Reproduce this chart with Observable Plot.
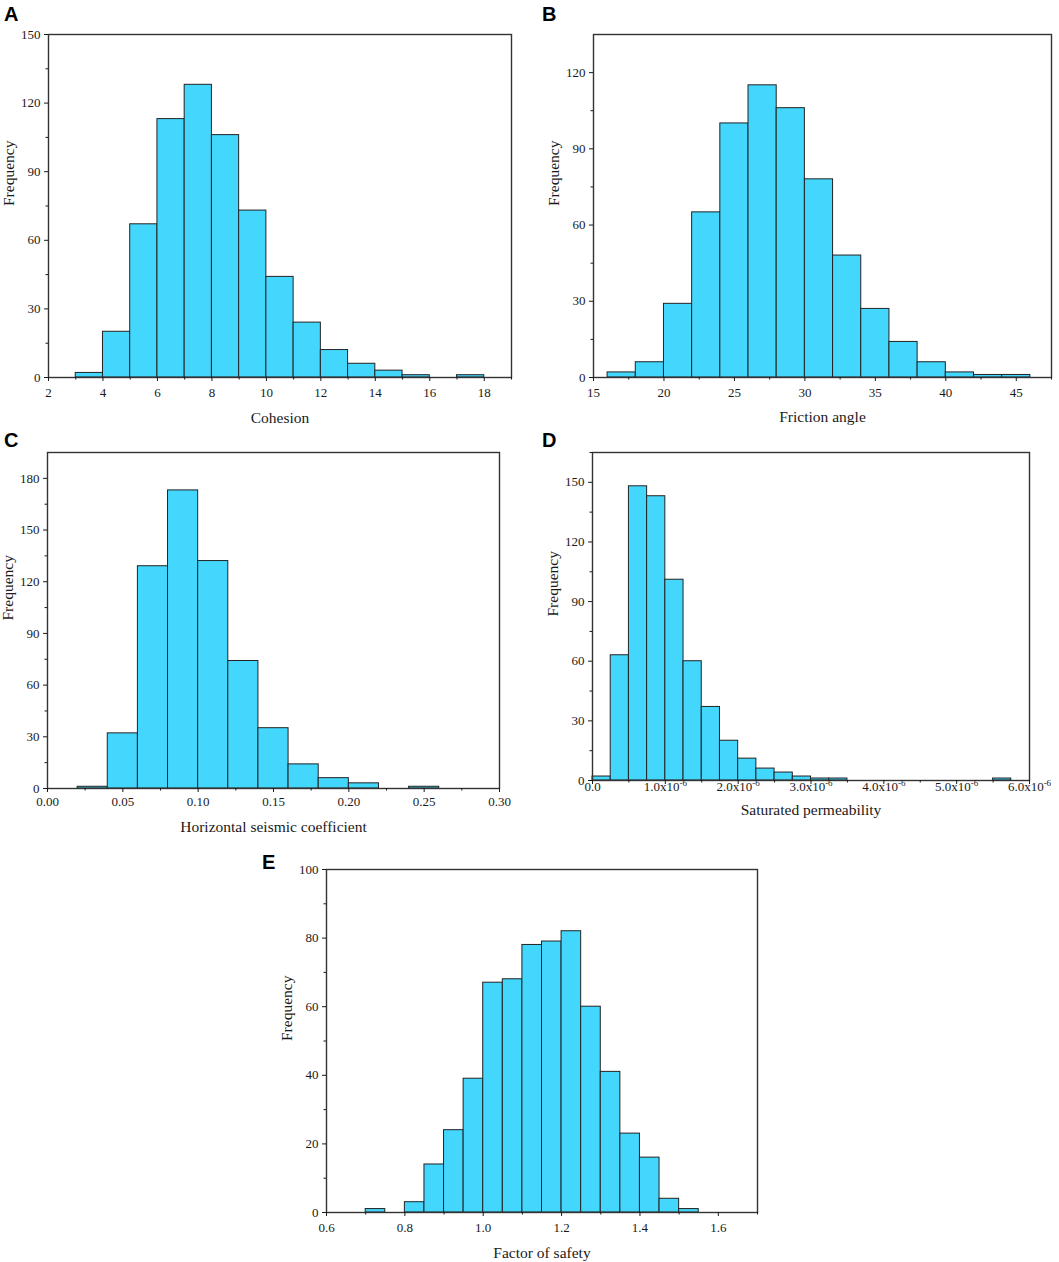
<!DOCTYPE html>
<html><head><meta charset="utf-8">
<script src="https://cdn.jsdelivr.net/npm/d3@7"></script>
<script src="https://cdn.jsdelivr.net/npm/@observablehq/plot@0.6"></script>
<style>
body{margin:0;background:#fff;}
#root{position:relative;width:1059px;height:1262px;overflow:hidden;}
.panel{position:absolute;}
#letters{position:absolute;left:0;top:0;pointer-events:none;}
</style></head><body><div id="root"></div>
<script>
// ---------- data ----------
// A: Cohesion
const cohesionEdges  = [3,4,5,6,7,8,9,10,11,12,13,14,15,16,17,18];
const cohesionCounts = [2,20,67,113,128,106,73,44,24,12,6,3,1,0,1];
const cohesionXTicks = [2,4,6,8,10,12,14,16,18];
const cohesionXMinor = [3,5,7,9,11,13,15,17,19];
const cohesionYTicks = [0,30,60,90,120,150];
const cohesionYMinor = [15,45,75,105,135];

// B: Friction angle
const frictionEdges  = [16,18,20,22,24,26,28,30,32,34,36,38,40,42,44,46];
const frictionCounts = [2,6,29,65,100,115,106,78,48,27,14,6,2,1,1];
const frictionXTicks = [15,20,25,30,35,40,45];
const frictionXMinor = [17.5,22.5,27.5,32.5,37.5,42.5,47.5];
const frictionYTicks = [0,30,60,90,120];
const frictionYMinor = [15,45,75,105];

// C: Horizontal seismic coefficient
const seismicEdges  = [0.02,0.04,0.06,0.08,0.10,0.12,0.14,0.16,0.18,0.20,0.22,0.24,0.26];
const seismicCounts = [1,32,129,173,132,74,35,14,6,3,0,1];
const seismicXTicks = [0,0.05,0.10,0.15,0.20,0.25,0.30];
const seismicXMinor = [0.025,0.075,0.125,0.175,0.225,0.275];
const seismicYTicks = [0,30,60,90,120,150,180];
const seismicYMinor = [15,45,75,105,135,165];

// D: Saturated permeability
const permEdges  = [0,0.25e-6,0.5e-6,0.75e-6,1.0e-6,1.25e-6,1.5e-6,1.75e-6,2.0e-6,2.25e-6,2.5e-6,2.75e-6,3.0e-6,3.25e-6,3.5e-6,3.75e-6,4.0e-6,4.25e-6,4.5e-6,4.75e-6,5.0e-6,5.25e-6,5.5e-6,5.75e-6];
const permCounts = [2,63,148,143,101,60,37,20,11,6,4,2,1,1,0,0,0,0,0,0,0,0,1];
const permXTicks = [0,1e-6,2e-6,3e-6,4e-6,5e-6,6e-6];
const permXMinor = [0.5e-6,1.5e-6,2.5e-6,3.5e-6,4.5e-6,5.5e-6];
const permYTicks = [0,30,60,90,120,150];
const permYMinor = [15,45,75,105,135,165];

// E: Factor of safety
const fosEdges  = [0.70,0.75,0.80,0.85,0.90,0.95,1.00,1.05,1.10,1.15,1.20,1.25,1.30,1.35,1.40,1.45,1.50,1.55];
const fosCounts = [1,0,3,14,24,39,67,68,78,79,82,60,41,23,16,4,1];
const fosXTicks = [0.6,0.8,1.0,1.2,1.4,1.6];
const fosXMinor = [0.7,0.9,1.1,1.3,1.5,1.7];
const fosYTicks = [0,20,40,60,80,100];
const fosYMinor = [10,30,50,70,90];

// ---------- drawing ----------
const FILL = "#44d7fe";
const SERIF = '"Liberation Serif","Times New Roman",serif';

function histPanel(o) {
  const bins = o.counts.map((c, i) => ({x1: o.edges[i], x2: o.edges[i + 1], n: c})).filter(d => d.n > 0);
  const svg = Plot.plot({
    width: o.w, height: o.h,
    marginLeft: o.m[0], marginRight: o.m[1], marginTop: o.m[2], marginBottom: o.m[3],
    style: {fontFamily: SERIF, fontSize: "13px", color: "#1a1a1a", background: "transparent", overflow: "visible"},
    x: {domain: o.xDomain, label: null},
    y: {domain: o.yDomain, label: null},
    marks: [
      Plot.rectY(bins, {x1: "x1", x2: "x2", y: "n", fill: FILL, stroke: "#222", strokeWidth: 1, inset: 0}),
      Plot.frame({stroke: "#333", strokeWidth: 1.4}),
      Plot.axisX({ticks: o.xTicks, tickFormat: o.xFormat, tickSize: 4, tickPadding: o.xPad, label: null, fontSize: 13}),
      Plot.axisX({ticks: o.xMinor, tickFormat: () => "", tickSize: 2.5, label: null}),
      Plot.axisY({ticks: o.yTicks, tickFormat: d3.format("d"), tickSize: 4, tickPadding: 4, label: null, fontSize: 13}),
      Plot.axisY({ticks: o.yMinor, tickFormat: () => "", tickSize: 2.5, label: null}),
      Plot.text([o.xLabel], {text: d => d, frameAnchor: "bottom", dy: o.xLabelOffset, lineAnchor: "bottom", fontSize: 15.5, fontFamily: SERIF, fill: "#1a1a1a"}),
      Plot.text(["Frequency"], {text: d => d, frameAnchor: "left", dx: -35, rotate: -90, lineAnchor: "bottom", fontSize: 15.5, fontFamily: SERIF, fill: "#1a1a1a"})
    ]
  });
  const div = document.createElement("div");
  div.className = "panel";
  div.style.left = o.left + "px";
  div.style.top = o.top + "px";
  div.appendChild(svg);
  document.getElementById("root").appendChild(div);
  return svg;
}

histPanel({left: 0, top: 0, w: 530, h: 430, m: [48, 19, 34, 53],
  edges: cohesionEdges, counts: cohesionCounts, xDomain: [2, 19], yDomain: [0, 150],
  xTicks: cohesionXTicks, xMinor: cohesionXMinor, yTicks: cohesionYTicks, yMinor: cohesionYMinor,
  xFormat: d3.format("d"), xPad: 6.5, xLabel: "Cohesion", xLabelOffset: 45});

histPanel({left: 530, top: 0, w: 529, h: 430, m: [63, 8, 34, 53],
  edges: frictionEdges, counts: frictionCounts, xDomain: [15, 47.5], yDomain: [0, 135],
  xTicks: frictionXTicks, xMinor: frictionXMinor, yTicks: frictionYTicks, yMinor: frictionYMinor,
  xFormat: d3.format("d"), xPad: 6.5, xLabel: "Friction angle", xLabelOffset: 44.5});

histPanel({left: 0, top: 420, w: 530, h: 420, m: [47, 31, 32, 52],
  edges: seismicEdges, counts: seismicCounts, xDomain: [0, 0.30], yDomain: [0, 195],
  xTicks: seismicXTicks, xMinor: seismicXMinor, yTicks: seismicYTicks, yMinor: seismicYMinor,
  xFormat: d3.format(".2f"), xPad: 4.5, xLabel: "Horizontal seismic coefficient", xLabelOffset: 43});

const permSvg = histPanel({left: 530, top: 420, w: 529, h: 420, m: [62, 30, 32, 60],
  edges: permEdges, counts: permCounts, xDomain: [0, 6e-6], yDomain: [0, 165],
  xTicks: permXTicks, xMinor: permXMinor, yTicks: permYTicks, yMinor: permYMinor,
  xFormat: d => d === 0 ? "0.0" : (d * 1e6).toFixed(1) + "x10^-6", xPad: -2.5,
  xLabel: "Saturated permeability", xLabelOffset: 34});

histPanel({left: 250, top: 850, w: 560, h: 412, m: [76, 53, 19, 50],
  edges: fosEdges, counts: fosCounts, xDomain: [0.6, 1.7], yDomain: [0, 100],
  xTicks: fosXTicks, xMinor: fosXMinor, yTicks: fosYTicks, yMinor: fosYMinor,
  xFormat: d3.format(".1f"), xPad: 6.5, xLabel: "Factor of safety", xLabelOffset: 45});

// superscript exponents on permeability tick labels
permSvg.querySelectorAll("text").forEach(t => {
  const s = t.textContent;
  if (s.includes("x10^")) {
    const [base, exp] = s.split("^");
    t.textContent = base;
    const ts = document.createElementNS("http://www.w3.org/2000/svg", "tspan");
    ts.setAttribute("dy", "-5");
    ts.setAttribute("font-size", "9");
    ts.textContent = exp;
    t.appendChild(ts);
  }
});

// panel letters
const NS = "http://www.w3.org/2000/svg";
const lsvg = document.createElementNS(NS, "svg");
lsvg.setAttribute("id", "letters");
lsvg.setAttribute("width", 1059);
lsvg.setAttribute("height", 1262);
const panelLetters = ["A", "B", "C", "D", "E"];
const letterPos = [[4, 21], [542, 21], [4, 447], [542, 447], [262, 869]];
panelLetters.forEach((L, i) => {
  const t = document.createElementNS(NS, "text");
  t.setAttribute("x", letterPos[i][0]);
  t.setAttribute("y", letterPos[i][1]);
  t.setAttribute("font-family", '"Liberation Sans",Arial,sans-serif');
  t.setAttribute("font-weight", "bold");
  t.setAttribute("font-size", "20");
  t.textContent = L;
  lsvg.appendChild(t);
});
document.getElementById("root").appendChild(lsvg);
</script>
</body></html>
